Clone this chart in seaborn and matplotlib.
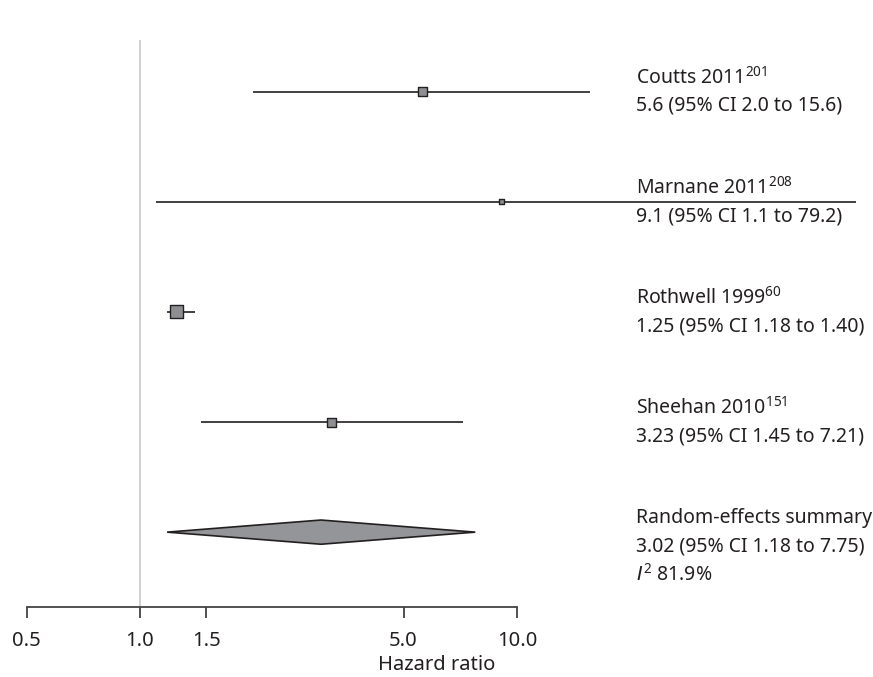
import numpy as np
import pandas as pd
import matplotlib
matplotlib.use("Agg")
import matplotlib.pyplot as plt
import seaborn as sns

# Study estimates (hazard ratios with 95% CI)
studies = ["Coutts 2011", "Marnane 2011", "Rothwell 1999", "Sheehan 2010"]
refs = ["201", "208", "60", "151"]
hr = [5.6, 9.1, 1.25, 3.23]
ci_low = [2.0, 1.1, 1.18, 1.45]
ci_high = [15.6, 79.2, 1.40, 7.21]
hr_text = ["5.6", "9.1", "1.25", "3.23"]
low_text = ["2.0", "1.1", "1.18", "1.45"]
high_text = ["15.6", "79.2", "1.40", "7.21"]

# Pooled random-effects estimate
summary_hr = 3.02
summary_low = 1.18
summary_high = 7.75
summary_i2 = "81.9%"

tick_values = [0.5, 1.0, 1.5, 5.0, 10.0]
tick_labels = ["0.5", "1.0", "1.5", "5.0", "10.0"]

sns.set_theme(style="white")
plt.rcParams["font.family"] = ["Noto Sans", "DejaVu Sans"]
plt.rcParams["mathtext.fontset"] = "custom"
plt.rcParams["mathtext.rm"] = "Noto Sans"
plt.rcParams["mathtext.it"] = "DejaVu Sans:italic"

W, H = 873, 677
fig = plt.figure(figsize=(W / 100, H / 100), dpi=100)
ax_left, ax_right, ax_top, ax_bottom = 10, 863, 40, 607
ax = fig.add_axes([ax_left / W, 1 - ax_bottom / H,
                   (ax_right - ax_left) / W, (ax_bottom - ax_top) / H])

ax.set_xscale("log")
px_per_decade = 377.0
x_one = 140.0
ax.set_xlim(10 ** ((ax_left - x_one) / px_per_decade),
            10 ** ((ax_right - x_one) / px_per_decade))
ax.set_ylim(-0.68, 4.47)

n = len(studies)
ypos = [n - i for i in range(n)]  # studies from top down, summary at 0
df = pd.DataFrame({"study": studies, "hr": hr, "lo": ci_low, "hi": ci_high, "y": ypos})

line_col = "#231f20"
fill_col = "#8e8f92"

# Null line
ax.axvline(1.0, color="#c8c8c8", lw=1.2, zorder=0)

# Confidence intervals
ax.hlines(df["y"], df["lo"], df["hi"], color=line_col, lw=1.2, zorder=2, clip_on=False)

# Point estimates, box size reflects study weight
box_sizes = [9, 5, 13, 9]  # pixels
marker_area = [(s * 0.72) ** 2 for s in box_sizes]
sns.scatterplot(data=df, x="hr", y="y", marker="s", s=marker_area,
                color=fill_col, edgecolor=line_col, linewidth=1.0,
                ax=ax, zorder=3, legend=False)

# Summary diamond
half_h = 0.11
dx = [summary_low, summary_hr, summary_high, summary_hr, summary_low]
dy = [0, half_h, 0, -half_h, 0]
ax.fill(dx, dy, facecolor="#939598", edgecolor=line_col, lw=1.2, zorder=3)

# Labels to the right
text_x = 10 ** ((636 - x_one) / px_per_decade)
fs = 14
line_gap = 20.2  # points
for i in range(n):
    lines = [f"{studies[i]}$^{{{refs[i]}}}$",
             f"{hr_text[i]} (95% CI {low_text[i]} to {high_text[i]})"]
    for k, t in enumerate(lines):
        ax.annotate(t, xy=(text_x, ypos[i]), xytext=(0, 10 - k * line_gap),
                    textcoords="offset points", ha="left", va="center",
                    fontsize=fs, color=line_col, annotation_clip=False)
sum_lines = ["Random-effects summary",
             f"{summary_hr:.2f} (95% CI {summary_low:.2f} to {summary_high:.2f})",
             f"$\\mathit{{I}}^{{2}}$ {summary_i2}"]
for k, t in enumerate(sum_lines):
    ax.annotate(t, xy=(text_x, 0), xytext=(0, 10 - k * line_gap),
                textcoords="offset points", ha="left", va="center",
                fontsize=fs, color=line_col, annotation_clip=False)

# Axis styling
for side in ["top", "right", "left"]:
    ax.spines[side].set_visible(False)
ax.spines["bottom"].set_color("#444444")
ax.spines["bottom"].set_linewidth(1.3)
ax.spines["bottom"].set_bounds(0.5, 10.0)
ax.set_yticks([])
ax.set_xticks(tick_values)
ax.set_xticklabels(tick_labels)
ax.xaxis.set_minor_locator(matplotlib.ticker.NullLocator())
ax.tick_params(axis="x", which="major", direction="out", length=8, width=1.3,
               color="#444444", labelsize=14.5, labelcolor=line_col, pad=9, bottom=True)
ax.set_xlabel("Hazard ratio", fontsize=14.5, color=line_col, labelpad=3)
ax.set_ylabel("")

fig.savefig("out.png", dpi=100)
